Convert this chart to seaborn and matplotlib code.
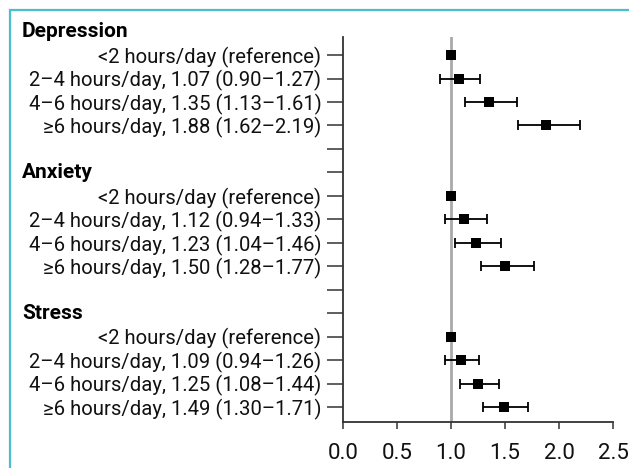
import numpy as np
import pandas as pd
import matplotlib
matplotlib.use("Agg")
import matplotlib.pyplot as plt
import matplotlib.transforms as mtransforms
from matplotlib.patches import Rectangle
import seaborn as sns

# ---------------- data ----------------
groups = ["Depression", "Anxiety", "Stress"]
levels = ["<2 hours/day", "2–4 hours/day", "4–6 hours/day", "≥6 hours/day"]

depression_or = [1.00, 1.07, 1.35, 1.88]
depression_lo = [np.nan, 0.90, 1.13, 1.62]
depression_hi = [np.nan, 1.27, 1.61, 2.19]

anxiety_or = [1.00, 1.12, 1.23, 1.50]
anxiety_lo = [np.nan, 0.94, 1.04, 1.28]
anxiety_hi = [np.nan, 1.33, 1.46, 1.77]

stress_or = [1.00, 1.09, 1.25, 1.49]
stress_lo = [np.nan, 0.94, 1.08, 1.30]
stress_hi = [np.nan, 1.26, 1.44, 1.71]

x_ticks = [0.0, 0.5, 1.0, 1.5, 2.0, 2.5]

# ---------------- build table ----------------
ors = [depression_or, anxiety_or, stress_or]
los = [depression_lo, anxiety_lo, stress_lo]
his = [depression_hi, anxiety_hi, stress_hi]

rows = []
GROUP_STRIDE = 6  # header + 4 levels + blank
for g, name in enumerate(groups):
    for k, lev in enumerate(levels):
        o, lo, hi = ors[g][k], los[g][k], his[g][k]
        if np.isnan(lo):
            lab = f"{lev} (reference)"
        else:
            lab = f"{lev}, {o:.2f} ({lo:.2f}–{hi:.2f})"
        rows.append(dict(group=name, pos=g * GROUP_STRIDE + k, OR=o, lo=lo, hi=hi, label=lab))
df = pd.DataFrame(rows)
n_ticks = GROUP_STRIDE * len(groups) - 2
header_pos = [g * GROUP_STRIDE - 1 for g in range(len(groups))]

# ---------------- style ----------------
sns.set_theme(style="white")
plt.rcParams["font.family"] = ["Roboto", "DejaVu Sans"]

W, H, DPI = 629, 468, 100
fig = plt.figure(figsize=(W / DPI, H / DPI), dpi=DPI)
ax = fig.add_axes([343 / W, 1 - 422 / H, (613 - 343) / W, (422 - 37) / H])

# reference line
ax.axvline(1.0, color="#a9a9a9", lw=2.0, zorder=1)

# CIs
ci = df.dropna(subset=["lo"])
ax.errorbar(ci["OR"], ci["pos"],
            xerr=[ci["OR"] - ci["lo"], ci["hi"] - ci["OR"]],
            fmt="none", ecolor="black", elinewidth=1.3, capsize=3.3, capthick=1.3, zorder=2)

# point estimates
sns.scatterplot(data=df, x="OR", y="pos", marker="s", color="black", s=52,
                linewidth=0, ax=ax, zorder=3, legend=False)

# axes
ax.set_xlim(0, 2.5)
ax.set_ylim(15.64, -0.77)
ax.set_xticks(x_ticks)
ax.set_xticklabels([f"{t:.1f}" for t in x_ticks])
ticks = list(range(n_ticks))
lab_map = dict(zip(df["pos"], df["label"]))
ax.set_yticks(ticks)
ax.set_yticklabels([lab_map.get(t, "") for t in ticks])
ax.set_xlabel("")
ax.set_ylabel("")
for s in ["top", "right"]:
    ax.spines[s].set_visible(False)
for s in ["left", "bottom"]:
    ax.spines[s].set_color("#333333")
    ax.spines[s].set_linewidth(1.3)
ax.tick_params(axis="y", length=11.5, width=1.1, color="#333333", pad=4,
               labelsize=14.6, labelcolor="#111111", left=True)
ax.tick_params(axis="x", length=5, width=1.1, color="#333333", pad=10,
               labelsize=16, labelcolor="#111111", bottom=True)

# group headers
trans = mtransforms.blended_transform_factory(fig.transFigure, ax.transData)
for name, hp in zip(groups, header_pos):
    ax.text(22 / W, hp, name, transform=trans, ha="left", va="center",
            fontsize=15, fontweight="bold", color="black", clip_on=False)

# frame border
fig.patches.append(Rectangle((9.5 / W, -0.1), 1.2, 1 - 10 / H + 0.1,
                             transform=fig.transFigure, fill=False,
                             edgecolor="#4bbfcc", linewidth=1.6))

fig.savefig("out.png", dpi=DPI)
